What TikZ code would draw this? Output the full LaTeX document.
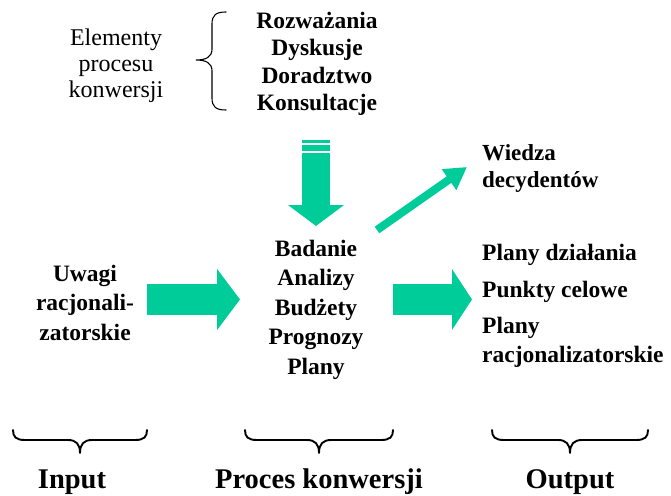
\documentclass[tikz,border=0pt]{standalone}
\usepackage{fontspec}
\setmainfont{Liberation Serif}
\usetikzlibrary{arrows.meta}
\definecolor{flowgreen}{RGB}{0,204,153}
\tikzset{
  boldtxt/.style={inner sep=0pt, font=\bfseries\fontsize{23.5}{27.5}\selectfont, align=center},
  plaintxt/.style={inner sep=0pt, font=\fontsize{24}{26}\selectfont, align=center},
  bigtxt/.style={inner sep=0pt, font=\bfseries\fontsize{28.5}{32}\selectfont},
  curly/.style={draw=black, line width=1.9pt, line cap=round, line join=round},
  thincurly/.style={draw=black, line width=1.1pt, line cap=round},
}
\begin{document}
\begin{tikzpicture}[x=1pt, y=-1pt]
\useasboundingbox (0,0) rectangle (671,495);

% text blocks (each node sits on the baseline of its last line)
\node[plaintxt, anchor=base] (elem) at (116,97) {Elementy\\procesu\\konwersji};
\node[boldtxt, anchor=base] (talk) at (317,110.5) {Rozważania\\Dyskusje\\Doradztwo\\Konsultacje};
\node[boldtxt, anchor=base, font=\bfseries\fontsize{23.5}{29.5}\selectfont] (core) at (316,374) {Badanie\\Analizy\\Budżety\\Prognozy\\Plany};
\node[boldtxt, anchor=base, font=\bfseries\fontsize{23.5}{29.5}\selectfont] (ideas) at (85,340) {Uwagi\\racjonali-\\zatorskie};
\node[boldtxt, anchor=base west, align=left, font=\bfseries\fontsize{23}{27}\selectfont] (know) at (482,187) {Wiedza\\decydentów};
\node[boldtxt, anchor=base west, align=left, font=\bfseries\fontsize{23.5}{29}\selectfont] (plans) at (482,362) {Plany działania\\[8pt]Punkty celowe\\[7pt]Plany\\racjonalizatorskie};

% bottom labels
\node[bigtxt, anchor=base] (input) at (72,488) {Input};
\node[bigtxt, anchor=base] (proc) at (319,488) {Proces konwersji};
\node[bigtxt, anchor=base] (output) at (570,488) {Output};

% brace grouping the conversion elements
\draw[thincurly] (226,12) .. controls (216,12) and (212,15) .. (212,24) -- (212,49)
  .. controls (212,57) and (206,60) .. (196,60)
  .. controls (206,60) and (212,63) .. (212,71) -- (212,98)
  .. controls (212,107) and (216,110) .. (226,110);

% braces above the three stage labels
\foreach \a/\m/\b in {13/80/147, 245/319/393, 492/570/648}{
  \draw[curly] (\a,430) .. controls (\a,437) and (\a+3,440) .. (\a+12,440) -- (\m-12,440)
    .. controls (\m-4,440) and (\m,444) .. (\m,453)
    .. controls (\m,444) and (\m+4,440) .. (\m+12,440) -- (\b-12,440)
    .. controls (\b-3,440) and (\b,437) .. (\b,430);
}

% arrow endpoints
\coordinate (inA) at (147,299.5);
\coordinate (inB) at (240,299.5);
\coordinate (outA) at (393,299.5);
\coordinate (outB) at (472,299.5);
\coordinate (downA) at (316,153);
\coordinate (downB) at (316,226);
\coordinate (upA) at (377,230);
\coordinate (upB) at (467,167);

% block arrows
\draw[flowgreen, line width=31pt, -{Triangle[length=23pt, width=60pt]}] (inA) -- (inB);
\draw[flowgreen, line width=31pt, -{Triangle[length=20pt, width=60pt]}] (outA) -- (outB);
\fill[flowgreen] (302,140) rectangle (330,143);
\fill[flowgreen] (302,145) rectangle (330,151);
\draw[flowgreen, line width=28pt, -{Triangle[length=21pt, width=55pt]}] (downA) -- (downB);
\draw[flowgreen, line width=8pt, -{Triangle[length=22pt, width=24pt]}] (upA) -- (upB);
\end{tikzpicture}
\end{document}
